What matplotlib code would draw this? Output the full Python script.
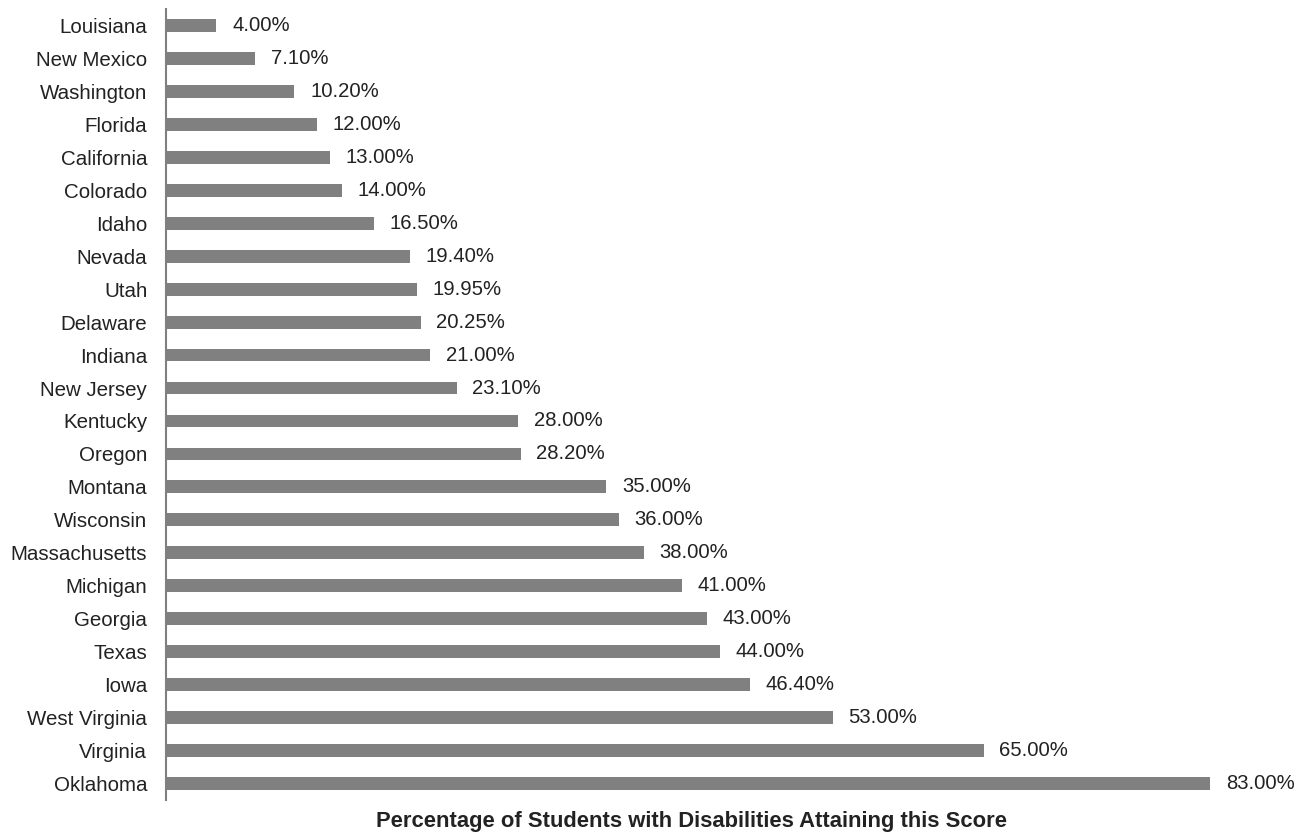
import matplotlib.pyplot as plt

plt.rcParams['font.family'] = ['Liberation Sans', 'DejaVu Sans']

states = ["Louisiana", "New Mexico", "Washington", "Florida", "California",
          "Colorado", "Idaho", "Nevada", "Utah", "Delaware", "Indiana",
          "New Jersey", "Kentucky", "Oregon", "Montana", "Wisconsin",
          "Massachusetts", "Michigan", "Georgia", "Texas", "Iowa",
          "West Virginia", "Virginia", "Oklahoma"]
pct = [4.00, 7.10, 10.20, 12.00, 13.00, 14.00, 16.50, 19.40, 19.95, 20.25,
       21.00, 23.10, 28.00, 28.20, 35.00, 36.00, 38.00, 41.00, 43.00, 44.00,
       46.40, 53.00, 65.00, 83.00]

fig = plt.figure(figsize=(13.11, 8.36), dpi=100)
ax = fig.add_axes([166 / 1311, 36 / 836, (1290 - 166) / 1311, 791 / 836])

y = range(len(states))
ax.barh(y, pct, height=0.39, color="#808080")
for yi, v in zip(y, pct):
    ax.text(v + 1.25, yi, f"{v:.2f}%", va="center", ha="left",
            fontsize=14.6, color="#222222")

ax.set_xlim(0, 89.35)
ax.set_ylim(len(states) - 0.5, -0.5)
ax.set_yticks(list(y))
ax.set_yticklabels(states, fontsize=14.8, color="#222222")
ax.tick_params(axis="y", length=0, pad=13.5)
ax.set_xticks([])
for side in ["top", "right", "bottom"]:
    ax.spines[side].set_visible(False)
ax.spines["left"].set_color("#808080")
ax.spines["left"].set_linewidth(1.5)

fig.text(691 / 1311, 1 - 822 / 836,
         "Percentage of Students with Disabilities Attaining this Score",
         ha="center", va="center", fontsize=15.8, fontweight="bold",
         color="#222222")

fig.savefig("out.png", dpi=100)
